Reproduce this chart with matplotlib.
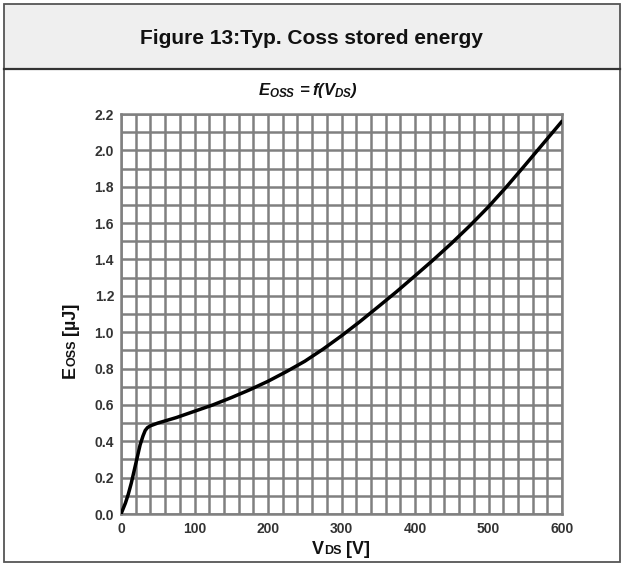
import matplotlib
matplotlib.use("Agg")
import matplotlib.pyplot as plt
from matplotlib.patches import Rectangle
from matplotlib.offsetbox import TextArea, HPacker, AnchoredOffsetbox
import numpy as np

plt.rcParams['font.family'] = ['Liberation Sans', 'DejaVu Sans']
plt.rcParams['mathtext.fontset'] = 'custom'
plt.rcParams['mathtext.rm'] = 'Liberation Sans:bold:italic'
plt.rcParams['mathtext.it'] = 'Liberation Sans:bold:italic'
plt.rcParams['mathtext.bf'] = 'Liberation Sans:bold:italic'

# Eoss vs VDS
vds = [0, 3, 6, 10, 14, 18, 22, 26, 30, 33, 36, 40, 50, 75, 100, 125, 150, 175,
       200, 225, 250, 275, 300, 325, 350, 375, 400, 425, 450, 475, 500, 525,
       550, 575, 600]
eoss = [0.0, 0.03, 0.06, 0.11, 0.17, 0.24, 0.31, 0.38, 0.43, 0.46, 0.475,
        0.485, 0.50, 0.53, 0.565, 0.60, 0.64, 0.683, 0.73, 0.783, 0.84, 0.907,
        0.98, 1.058, 1.14, 1.223, 1.31, 1.398, 1.49, 1.587, 1.69, 1.802,
        1.92, 2.04, 2.16]

x_ticks = [0, 100, 200, 300, 400, 500, 600]
y_ticks = [0.0, 0.2, 0.4, 0.6, 0.8, 1.0, 1.2, 1.4, 1.6, 1.8, 2.0, 2.2]

W, H = 623, 566
fig = plt.figure(figsize=(W / 100, H / 100), dpi=100)

# frame and title band
fig.patches.append(Rectangle((4 / W, 1 - 69 / H), 616 / W, 65 / H, transform=fig.transFigure,
                             facecolor='#efefef', edgecolor='none', zorder=-2))
fig.patches.append(Rectangle((4 / W, 4 / H), 616 / W, 558 / H, transform=fig.transFigure,
                             facecolor='none', edgecolor='#555555', lw=1.3, zorder=-1))
fig.lines.append(plt.Line2D([4 / W, 620 / W], [1 - 69 / H, 1 - 69 / H],
                            transform=fig.transFigure, color='#333333', lw=1.6))

fig.text(0.5, 1 - 39 / H, 'Figure 13:Typ. Coss stored energy', ha='center', va='center',
         fontsize=15, fontweight='bold', color='#111111')
fig.text(308 / W, 1 - 90 / H, r'$E_{OSS}\,=f(V_{DS})$', ha='center', va='center',
         fontsize=12, color='#111111')

ax = fig.add_axes([121 / W, 1 - 514 / H, 441 / W, 400 / H])
ax.plot(vds, eoss, color='black', lw=2.5, solid_capstyle='round', zorder=3)

ax.set_xlim(0, 600)
ax.set_ylim(0, 2.2)
ax.set_xticks(np.arange(0, 601, 20), minor=True)
ax.set_yticks(np.arange(0, 2.21, 0.1), minor=True)
ax.set_xticks(x_ticks)
ax.set_yticks(y_ticks)
ax.set_xticklabels([str(v) for v in x_ticks])
ax.set_yticklabels([f'{v:.1f}' for v in y_ticks])
ax.grid(True, which='both', color='#808080', lw=1.8)
ax.set_axisbelow(True)
for s in ax.spines.values():
    s.set_color('#808080')
    s.set_linewidth(1.8)
ax.tick_params(which='both', length=0)
ax.tick_params(axis='x', pad=6)
ax.tick_params(axis='y', pad=5)
for lab in ax.get_xticklabels() + ax.get_yticklabels():
    lab.set_fontweight('bold')
    lab.set_fontsize(10)
    lab.set_color('#333333')

big = dict(fontsize=13, fontweight='bold', color='#111111')
small = dict(fontsize=9, fontweight='bold', color='#111111')

# x label: VDS [V] with small DS on baseline
xl = HPacker(children=[TextArea('V', textprops=big),
                       TextArea('DS', textprops=small),
                       TextArea(' [V]', textprops=big)],
             align='baseline', pad=0, sep=0)
fig.add_artist(AnchoredOffsetbox(loc='center', child=xl, frameon=False, pad=0, borderpad=0,
                                 bbox_to_anchor=(341 / W, 1 - 549 / H),
                                 bbox_transform=fig.transFigure))

# y label: Eoss [µJ], rotated pieces stacked upward on a common baseline
renderer = fig.canvas.get_renderer()
y_px = 378
for txt, props, gap in [('E', big, 0), ('OSS', small, 4), ('[µJ]', big, 0)]:
    t = fig.text(75 / W, 1 - y_px / H, txt, rotation=90, ha='left', va='baseline',
                 rotation_mode='anchor', **props)
    ext = t.get_window_extent(renderer)
    y_px -= ext.height + gap

fig.savefig('out.png', dpi=100)
